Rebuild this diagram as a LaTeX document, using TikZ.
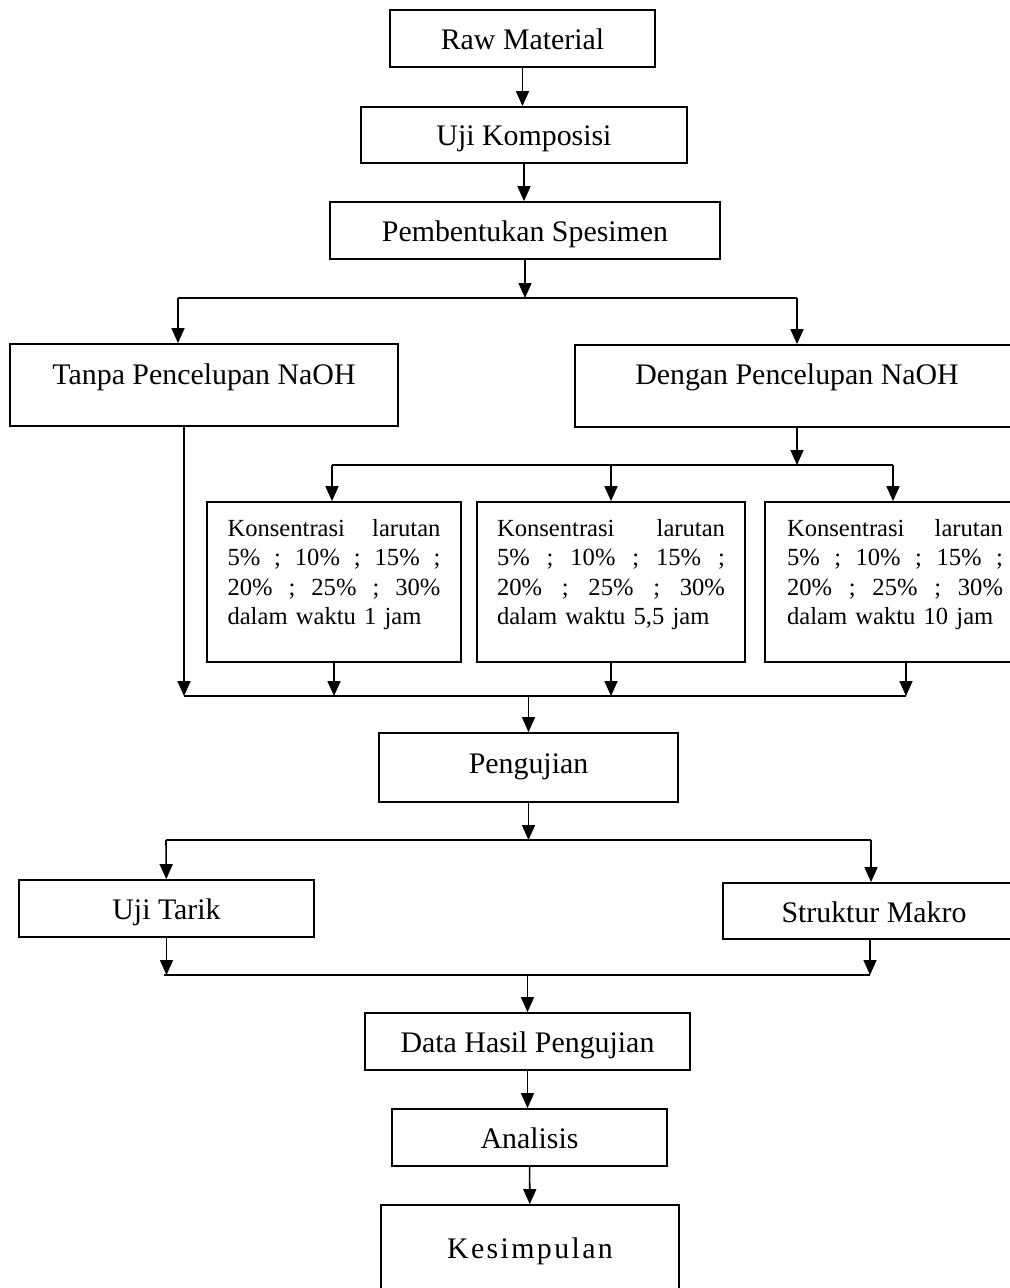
\documentclass[tikz,border=0pt]{standalone}
\usepackage{fontspec}
\setmainfont{Liberation Serif}
\usetikzlibrary{arrows.meta}

\begin{document}
\begin{tikzpicture}[x=0.02cm, y=-0.02cm, line width=0.9pt,
		box/.style={draw, line width=1pt, inner sep=0pt, text height=0.44cm, text depth=0pt, font=\fontsize{17}{20}\selectfont},
		konsbox/.style={draw, line width=1pt, inner sep=0pt, minimum height=3.2cm, align=left, font=\fontsize{14}{16.6}\selectfont},
		arr/.style={-{Triangle[length=0.3cm, width=0.26cm]}}]
		\useasboundingbox (0,0) rectangle (1010,1288);
		\clip (0,0) rectangle (1010,1288);
		% boxes
		\node[box, minimum width=5.3cm, minimum height=1.14cm] (raw) at (522.5,38.5) {Raw Material};
		\node[box, minimum width=6.52cm, minimum height=1.12cm] (uji) at (524,135) {Uji Komposisi};
		\node[box, minimum width=7.8cm, minimum height=1.14cm] (bentuk) at (525,230.5) {Pembentukan Spesimen};
		\node[box, minimum width=7.76cm, minimum height=1.64cm, text height=0.4cm, text depth=0.44cm] (tanpa) at (204,385) {Tanpa Pencelupan NaOH};
		\node[box, minimum width=8.88cm, minimum height=1.64cm, text height=0.4cm, text depth=0.48cm] (dengan) at (797,386) {Dengan Pencelupan NaOH};
		\node[konsbox, minimum width=5.08cm, text width=4.26cm] (k1) at (334,582)
			{Konsentrasi\hfill larutan\\ 5\%\hfill;\hfill 10\%\hfill;\hfill 15\%\hfill;\\ 20\%\hfill;\hfill 25\%\hfill;\hfill 30\%\\ dalam waktu 1 jam\par\kern0.3cm};
		\node[konsbox, minimum width=5.36cm, text width=4.56cm] (k2) at (611,582)
			{Konsentrasi\hfill larutan\\ 5\%\hfill;\hfill 10\%\hfill;\hfill 15\%\hfill;\\ 20\%\hfill;\hfill 25\%\hfill;\hfill 30\%\\ dalam waktu 5,5 jam\par\kern0.3cm};
		\node[konsbox, minimum width=5.2cm, text width=4.32cm] (k3) at (895,582)
			{Konsentrasi\hfill larutan\\ 5\%\hfill;\hfill 10\%\hfill;\hfill 15\%\hfill;\\ 20\%\hfill;\hfill 25\%\hfill;\hfill 30\%\\ dalam waktu 10 jam\par\kern0.3cm};
		\node[box, minimum width=5.98cm, minimum height=1.38cm, text height=0.22cm] (peng) at (528.5,767.5) {Pengujian};
		\node[box, minimum width=5.9cm, minimum height=1.14cm] (tarik) at (166.5,908.5) {Uji Tarik};
		\node[box, minimum width=6.04cm, minimum height=1.12cm] (makro) at (874,911) {Struktur Makro};
		\node[box, minimum width=6.5cm, minimum height=1.14cm] (data) at (527.5,1041.5) {Data Hasil Pengujian};
		\node[box, minimum width=5.5cm, minimum height=1.14cm] (anal) at (529.5,1137.5) {Analisis};
		\node[box, minimum width=5.96cm, minimum height=1.8cm, text height=0.32cm] (kes) at (530,1250) {\addfontfeature{LetterSpace=8}Kesimpulan};
		% junctions
		\coordinate (s1l) at (178,298);
		\coordinate (s1r) at (797,298);
		\coordinate (s2l) at (332,465);
		\coordinate (s2r) at (893,465);
		\coordinate (m1l) at (184,696);
		\coordinate (m1r) at (906,696);
		\coordinate (s3l) at (166,840);
		\coordinate (s3r) at (871,840);
		\coordinate (m2l) at (164,975);
		\coordinate (m2r) at (870,975);
		% connectors
		\draw[arr] (raw.south) -- (raw.south |- uji.north);
		\draw[arr] (uji) -- (uji |- bentuk.north);
		\draw[arr] (bentuk) -- (bentuk |- s1l);
		\draw (s1l) -- (s1r);
		\draw[arr] (s1l) -- (s1l |- tanpa.north);
		\draw[arr] (s1r) -- (dengan);
		\draw[arr] (dengan) -- (dengan |- s2l);
		\draw (s2l) -- (s2r);
		\draw[arr] (s2l) -- (s2l |- k1.north);
		\draw[arr] (k2 |- s2l) -- (k2);
		\draw[arr] (s2r) -- (s2r |- k3.north);
		\draw (m1l) -- (m1r);
		\draw[arr] (tanpa.south -| m1l) -- (m1l);
		\draw[arr] (k1) -- (k1 |- m1l);
		\draw[arr] (k2) -- (k2 |- m1l);
		\draw[arr] (k3.south -| m1r) -- (m1r);
		\draw[arr] (m1l -| peng) -- (peng);
		\draw[arr] (peng) -- (peng |- s3l);
		\draw (s3l) -- (s3r);
		\draw[arr] (s3l) -- (tarik);
		\draw[arr] (s3r) -- (s3r |- makro.north);
		\draw[arr] (tarik) -- (tarik |- m2l);
		\draw[arr] (makro.south -| m2r) -- (m2r);
		\draw (m2l) -- (m2r);
		\draw[arr] (m2l -| data) -- (data);
		\draw[arr] (data) -- (data |- anal.north);
		\draw[arr] (anal) -- (kes);
\end{tikzpicture}
\end{document}
